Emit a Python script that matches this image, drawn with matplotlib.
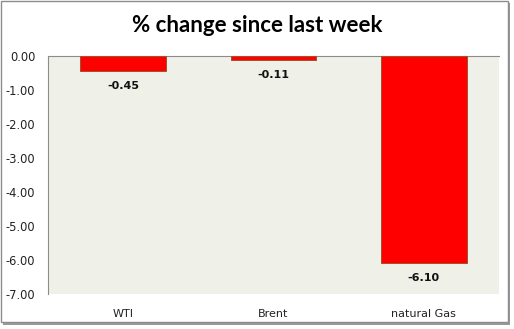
import matplotlib.pyplot as plt
from matplotlib.patches import Rectangle

categories = ['WTI', 'Brent', 'natural Gas']
values = [-0.45, -0.11, -6.10]
yticks = [0, -1, -2, -3, -4, -5, -6, -7]

W, H = 514, 329
fig = plt.figure(figsize=(W / 100, H / 100), dpi=100)
fig.patch.set_facecolor('white')

# outer chart frame with a little shadow
fig.patches.append(Rectangle((3 / W, 1 - 325 / H), 507 / W, 322 / H, transform=fig.transFigure,
                             facecolor='#9a9a9a', edgecolor='none', zorder=0))
fig.patches.append(Rectangle((1 / W, 1 - 322 / H), 507 / W, 321 / H, transform=fig.transFigure,
                             facecolor='white', edgecolor='#8c8c8c', linewidth=1, zorder=1))

ax = fig.add_axes([48 / W, 1 - 294 / H, 451 / W, 238 / H])
ax.set_facecolor('#eff0e8')
ax.set_zorder(2)

x = range(len(categories))
ax.bar(x, values, width=0.57, color='#ff0000', edgecolor='#a0522d', linewidth=0.7, zorder=3)
for i, v in enumerate(values):
    ax.text(i, v - 0.44, f'{v:.2f}', ha='center', va='center', fontsize=8,
            fontweight='bold', family='DejaVu Sans', color='#111111')

ax.set_xlim(-0.5, 2.5)
ax.set_ylim(-7, 0)
ax.set_yticks(yticks)
ax.set_yticklabels([f'{t:.2f}' for t in yticks], fontsize=8.3, family='DejaVu Sans')
ax.set_xticks(list(x))
ax.set_xticklabels(categories, fontsize=8, family='DejaVu Sans')
ax.tick_params(axis='both', length=0, pad=9, colors='#222222')
ax.tick_params(axis='x', pad=11)

for s in ['right', 'bottom']:
    ax.spines[s].set_visible(False)
ax.spines['left'].set_color('#8c8c8c')
ax.spines['top'].set_color('#8c8c8c')

fig.text(0.5, 1 - 25 / H, '% change since last week', ha='center', va='center',
         fontsize=16, fontweight='bold', family='Lato')

fig.savefig('out.png', dpi=100)
